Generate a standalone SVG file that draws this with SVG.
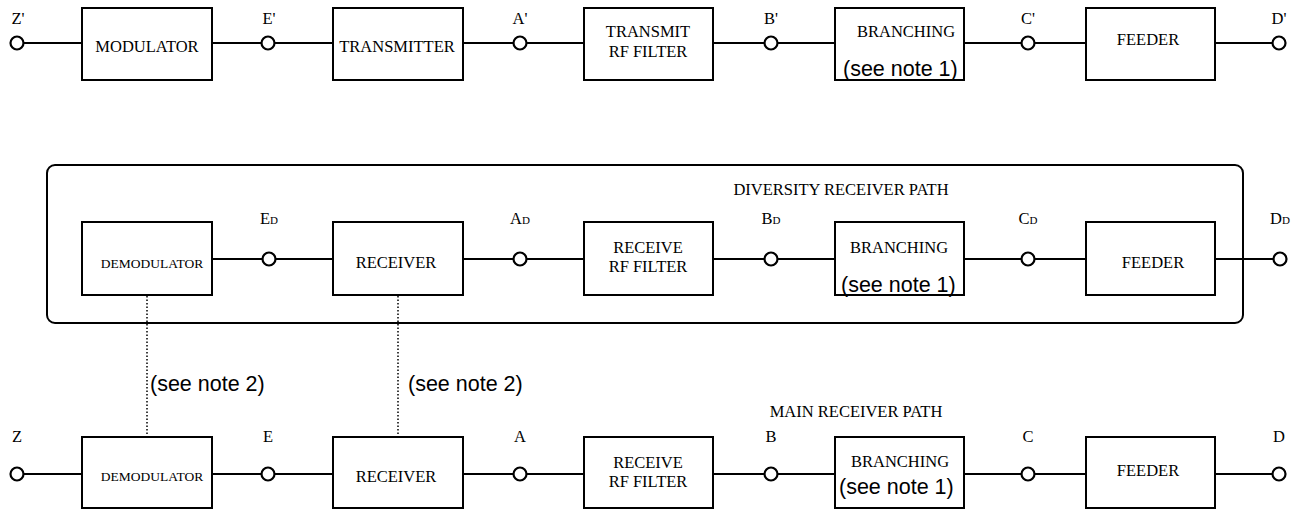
<svg xmlns="http://www.w3.org/2000/svg" width="1298" height="510" viewBox="0 0 1298 510">
<style>
.box{fill:#fff;stroke:#000;stroke-width:2}
.ln{fill:none;stroke:#000;stroke-width:2}
.dot{fill:none;stroke:#000;stroke-width:1.5;stroke-dasharray:1.5 2}
.pt{fill:#fff;stroke:#000;stroke-width:2.2}
.t{font-family:"Liberation Serif","Times New Roman",serif;font-size:16.5px;text-anchor:middle;fill:#000}
.s{font-family:"Liberation Serif","Times New Roman",serif;font-size:13.5px;text-anchor:middle;fill:#000}
.lb{font-family:"Liberation Serif","Times New Roman",serif;font-size:16.5px;text-anchor:middle;fill:#000}
.n{font-family:"Liberation Sans",Arial,sans-serif;font-size:21.5px;fill:#000}
.sub{font-size:11px}
</style>
<rect id="diversity-frame" x="47" y="165" width="1196" height="158" rx="8" ry="8" fill="none" stroke="#000" stroke-width="2"/>
<g id="connectors">
<line class="ln" x1="17" y1="43" x2="1279" y2="43"/>
<line class="ln" x1="212" y1="259" x2="1280" y2="259"/>
<line class="ln" x1="17" y1="474" x2="1279" y2="474"/>
<line class="dot" x1="147" y1="296" x2="147" y2="437"/>
<line class="dot" x1="398" y1="296" x2="398" y2="437"/>
</g>
<g id="top-row">
<g id="modulator"><rect class="box" x="82" y="8" width="130" height="72"/><text class="t" x="147" y="52">MODULATOR</text></g>
<g id="transmitter"><rect class="box" x="333" y="8" width="130" height="72"/><text class="t" x="397" y="52">TRANSMITTER</text></g>
<g id="tx-filter"><rect class="box" x="584" y="8" width="129" height="72"/><text class="t" x="648" y="37">TRANSMIT</text><text class="t" x="648" y="57">RF FILTER</text></g>
<g id="tx-branching"><rect class="box" x="835" y="8" width="129" height="72"/><text class="t" x="906" y="37">BRANCHING</text><text class="n" x="843" y="76">(see note 1)</text></g>
<g id="tx-feeder"><rect class="box" x="1086" y="8" width="129" height="72"/><text class="t" x="1148" y="45">FEEDER</text></g>
<g id="tx-points">
<circle class="pt" cx="17" cy="43" r="6.5"/><circle class="pt" cx="268" cy="43" r="6.5"/><circle class="pt" cx="520" cy="43" r="6.5"/><circle class="pt" cx="771" cy="43" r="6.5"/><circle class="pt" cx="1028" cy="43" r="6.5"/><circle class="pt" cx="1279" cy="43" r="6.5"/>
<text class="lb" x="18" y="24">Z'</text><text class="lb" x="269" y="24">E'</text><text class="lb" x="520" y="24">A'</text><text class="lb" x="771" y="24">B'</text><text class="lb" x="1028" y="24">C'</text><text class="lb" x="1279" y="24">D'</text>
</g>
</g>
<g id="diversity-row">
<text class="lb" x="841" y="195">DIVERSITY RECEIVER PATH</text>
<g id="div-demod"><rect class="box" x="82" y="222" width="130" height="73"/><text class="s" x="152" y="268">DEMODULATOR</text></g>
<g id="div-receiver"><rect class="box" x="333" y="222" width="130" height="73"/><text class="t" x="396" y="268">RECEIVER</text></g>
<g id="div-filter"><rect class="box" x="584" y="222" width="129" height="73"/><text class="t" x="648" y="253">RECEIVE</text><text class="t" x="648" y="272">RF FILTER</text></g>
<g id="div-branching"><rect class="box" x="835" y="222" width="129" height="73"/><text class="t" x="899" y="253">BRANCHING</text><text class="n" x="841" y="292">(see note 1)</text></g>
<g id="div-feeder"><rect class="box" x="1086" y="222" width="129" height="73"/><text class="t" x="1153" y="268">FEEDER</text></g>
<g id="div-points">
<circle class="pt" cx="269" cy="259" r="6.5"/><circle class="pt" cx="520" cy="259" r="6.5"/><circle class="pt" cx="771" cy="259" r="6.5"/><circle class="pt" cx="1028" cy="259" r="6.5"/><circle class="pt" cx="1280" cy="259" r="6.5"/>
<text class="lb" x="269" y="224">E<tspan class="sub">D</tspan></text><text class="lb" x="520" y="224">A<tspan class="sub">D</tspan></text><text class="lb" x="771" y="224">B<tspan class="sub">D</tspan></text><text class="lb" x="1028" y="224">C<tspan class="sub">D</tspan></text><text class="lb" x="1280" y="224">D<tspan class="sub">D</tspan></text>
</g>
</g>
<text class="n" x="150" y="391">(see note 2)</text>
<text class="n" x="408" y="391">(see note 2)</text>
<g id="main-row">
<text class="lb" x="856" y="417">MAIN RECEIVER PATH</text>
<g id="main-demod"><rect class="box" x="82" y="437" width="130" height="71"/><text class="s" x="152" y="481">DEMODULATOR</text></g>
<g id="main-receiver"><rect class="box" x="333" y="437" width="130" height="71"/><text class="t" x="396" y="482">RECEIVER</text></g>
<g id="main-filter"><rect class="box" x="584" y="437" width="129" height="71"/><text class="t" x="648" y="468">RECEIVE</text><text class="t" x="648" y="487">RF FILTER</text></g>
<g id="main-branching"><rect class="box" x="835" y="437" width="129" height="71"/><text class="t" x="900" y="467">BRANCHING</text><text class="n" x="839" y="494">(see note 1)</text></g>
<g id="main-feeder"><rect class="box" x="1086" y="437" width="129" height="71"/><text class="t" x="1148" y="476">FEEDER</text></g>
<g id="main-points">
<circle class="pt" cx="17" cy="474" r="6.5"/><circle class="pt" cx="268" cy="474" r="6.5"/><circle class="pt" cx="520" cy="474" r="6.5"/><circle class="pt" cx="771" cy="474" r="6.5"/><circle class="pt" cx="1028" cy="474" r="6.5"/><circle class="pt" cx="1279" cy="474" r="6.5"/>
<text class="lb" x="17" y="442">Z</text><text class="lb" x="268" y="442">E</text><text class="lb" x="520" y="442">A</text><text class="lb" x="771" y="442">B</text><text class="lb" x="1028" y="442">C</text><text class="lb" x="1279" y="442">D</text>
</g>
</g>
</svg>
